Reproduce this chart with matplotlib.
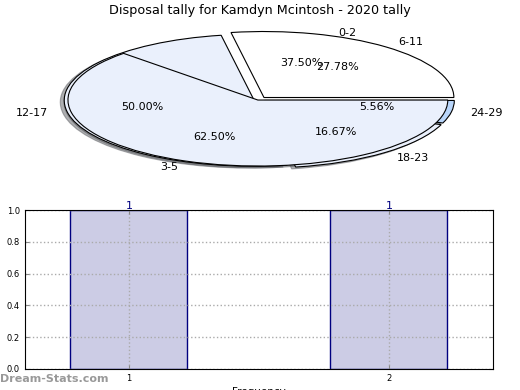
import numpy as np
import matplotlib
matplotlib.use('Agg')
import matplotlib.pyplot as plt
from matplotlib.patches import Shadow

# pie data: two overlaid pies
inner_labels = ['0-2', '3-5']
inner_values = [37.5, 62.5]
outer_labels = ['6-11', '12-17', '18-23', '24-29']
outer_values = [27.78, 50.0, 16.67, 5.56]

# bar data
bar_x = [1, 2]
bar_heights = [1, 1]
bar_ticks = ['1', '2']

title = 'Disposal tally for Kamdyn Mcintosh - 2020 tally'

light = '#eaf0fc'
blue = '#b8d5fa'


def main():
    fig = plt.figure(figsize=(5.2, 3.9), dpi=100)

    ###pie section
    ax1 = fig.add_axes([0.0394, 0.532, 0.913, 0.423])
    ax1.pie(outer_values, labels=outer_labels, autopct='%.2f%%',
            colors=['white', light, light, blue],
            explode=[0.05, 0.02, 0.04, 0.035],
            shadow=dict(ox=-0.015, oy=-0.02, shade=0.6), startangle=0,
            wedgeprops=dict(edgecolor='black', linewidth=0.8, zorder=1),
            textprops=dict(fontsize=8))
    outer_shadows = [p for p in ax1.patches if isinstance(p, Shadow)]
    wedges, texts, autotexts = ax1.pie(
        inner_values, labels=inner_labels, autopct='%.2f%%',
        colors=['white', light], shadow=dict(ox=-0.015, oy=-0.02, shade=0.6),
        startangle=0,
        wedgeprops=dict(edgecolor='black', linewidth=0.8, zorder=2),
        textprops=dict(fontsize=8))
    shadows = [p for p in ax1.patches if isinstance(p, Shadow)]
    inner_shadows = shadows[len(outer_shadows):]
    # the 0-2 wedge only shows what lies below it
    wedges[0].set_facecolor('none')
    wedges[0].set_edgecolor('none')
    inner_shadows[0].set_visible(False)
    outer_shadows[0].set_visible(False)
    for p in shadows:
        p.set_zorder(0.5)
    for t in texts + autotexts:
        t.set_zorder(5)
    ax1.set_aspect('auto')
    ax1.set_xlim(-1.25, 1.25)
    ax1.set_ylim(-1.25, 1.25)
    fig.suptitle(title, y=0.974, va='center', fontsize=9.2)

    ###bar section
    ax2 = fig.add_axes([0.048, 0.054, 0.9, 0.4075])
    ax2.bar(bar_x, bar_heights, width=0.45, color='#ccccE5',
            edgecolor='navy', linewidth=1, zorder=2)
    for x, h in zip(bar_x, bar_heights):
        ax2.annotate(str(h), (x, h), xytext=(0, 3), textcoords='offset points',
                     ha='center', va='center', color='navy', fontsize=8,
                     zorder=6, annotation_clip=False)
    ax2.set_xlim(0.6, 2.4)
    ax2.set_ylim(0, 1.0)
    ax2.set_xticks(bar_x)
    ax2.set_xticklabels(bar_ticks)
    ax2.set_yticks(np.arange(0, 1.01, 0.2))
    ax2.tick_params(labelsize=6, direction='in', top=True, right=True,
                    length=3, color='#888888')
    ax2.grid(True, linestyle=':', color='#aaaaaa', linewidth=1, zorder=3)
    ax2.set_axisbelow(False)
    for s in ax2.spines.values():
        s.set_zorder(5)
    ax2.set_ylabel('Stat Intervals', fontsize=7.5, labelpad=5)
    ax2.set_xlabel('Frequency', fontsize=7.5, labelpad=3)

    fig.text(0.0, 0.041, 'Dream-Stats.com', color='#999999', fontsize=8,
             fontweight='bold', va='top', ha='left')

    fig.savefig('out.png', dpi=100)


if __name__ == '__main__':
    main()
